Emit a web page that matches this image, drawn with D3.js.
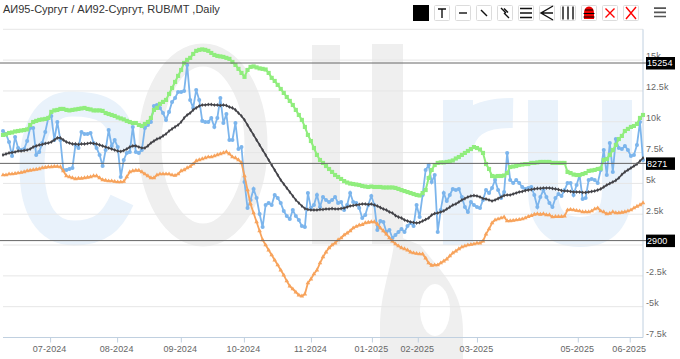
<!DOCTYPE html>
<html>
<head>
<meta charset="utf-8">
<title>АИ95-Сургут / АИ92-Сургут</title>
<script src="https://cdn.jsdelivr.net/npm/d3@7"></script>
<style>
  body { margin: 0; background: #fff; }
  svg { display: block; }
</style>
</head>
<body>
<svg></svg>
<script>
// values in thousands RUB/MT, one per trading day
const blueValues = [
  9.25,9.01,8.36,7.22,8.77,7.87,7.71,7.79,8.44,9.50,9.50,7.31,7.55,8.28,9.17,10.31,10.47,8.52,9.98,8.52,
  6.09,6.09,6.17,6.25,8.12,7.87,9.17,9.01,9.01,9.09,8.28,7.87,7.31,6.41,7.71,9.33,8.04,8.52,7.95,5.52,
  6.90,7.47,7.55,9.58,7.55,7.47,7.71,9.50,9.74,9.98,11.28,11.36,11.12,10.71,10.15,10.80,11.61,11.93,12.42,12.42,
  12.50,14.61,11.77,11.12,12.58,11.77,10.07,9.98,9.98,10.31,9.58,10.31,11.93,9.90,10.63,8.52,8.52,9.90,7.79,7.95,
  5.11,3.00,3.65,4.55,3.81,2.52,1.46,3.25,3.41,3.25,4.06,3.81,3.41,2.76,2.35,2.11,2.84,2.35,2.03,1.54,
  1.46,4.22,3.00,3.25,4.06,3.08,3.90,3.65,3.49,3.65,3.90,3.41,3.49,2.84,3.25,4.22,3.49,3.41,3.00,2.19,
  2.44,3.25,3.98,3.25,1.22,1.95,1.87,1.06,1.22,0.57,0.81,1.06,1.30,1.06,1.54,1.79,1.54,3.25,2.27,4.06,
  6.09,6.49,5.11,5.68,1.06,2.84,4.22,3.57,4.06,4.55,4.46,4.55,3.90,3.08,2.68,3.49,3.25,3.08,3.00,3.65,
  4.46,4.22,4.63,5.28,4.46,3.81,4.30,7.47,5.28,5.03,5.28,5.03,4.71,4.55,4.63,4.71,4.06,3.08,3.90,4.46,
  3.90,3.41,3.08,3.81,4.14,3.98,4.46,5.03,5.03,4.06,4.87,5.68,3.73,3.81,5.28,5.36,5.28,5.03,6.09,7.71,
  5.68,8.28,5.93,8.60,7.87,7.79,8.04,7.71,7.22,7.31,8.12,9.98,6.90
];
const blackValues = [
  7.31,7.39,7.47,7.51,7.55,7.63,7.63,7.67,7.71,7.79,7.95,8.04,8.12,8.16,8.24,8.28,8.36,8.52,8.69,8.69,
  8.52,8.36,8.28,8.20,8.20,8.16,8.20,8.20,8.24,8.28,8.24,8.20,8.12,8.04,7.95,7.87,7.79,7.71,7.63,7.59,
  7.67,7.79,7.95,8.04,8.04,7.95,7.87,7.87,8.04,8.28,8.44,8.60,8.69,8.85,9.01,9.25,9.42,9.58,9.74,9.98,
  10.31,10.55,10.71,10.96,11.12,11.28,11.36,11.36,11.40,11.40,11.36,11.36,11.32,11.36,11.32,11.20,11.12,10.96,10.71,10.47,
  10.15,9.74,9.33,8.93,8.52,8.12,7.71,7.31,6.90,6.49,6.09,5.68,5.28,4.95,4.63,4.30,3.98,3.65,3.41,3.17,
  2.96,2.88,2.84,2.84,2.84,2.88,2.88,2.92,2.92,2.96,2.92,2.92,2.96,3.00,3.08,3.17,3.21,3.25,3.29,3.33,
  3.33,3.29,3.33,3.25,3.17,3.04,2.92,2.84,2.68,2.60,2.39,2.27,2.19,2.03,1.95,1.87,1.83,1.79,1.83,1.95,
  2.07,2.19,2.44,2.56,2.60,2.68,2.76,2.92,3.08,3.25,3.33,3.49,3.65,3.77,3.90,3.98,4.02,3.98,3.90,3.77,
  3.73,3.65,3.57,3.65,3.77,3.90,4.02,4.06,4.06,4.14,4.22,4.30,4.34,4.42,4.46,4.50,4.55,4.59,4.59,4.63,
  4.63,4.63,4.59,4.55,4.50,4.42,4.38,4.38,4.34,4.30,4.30,4.30,4.26,4.26,4.30,4.34,4.38,4.46,4.55,4.71,
  4.87,4.99,5.11,5.24,5.44,5.72,5.93,6.09,6.25,6.41,6.57,6.82,7.06
];
const greenValues = [
  8.93,8.97,9.09,9.13,9.21,9.25,9.29,9.33,9.38,9.74,9.98,10.07,10.15,10.19,10.23,10.31,10.80,10.92,10.96,11.04,
  11.04,10.96,10.92,10.96,11.00,11.04,11.08,11.12,11.04,11.00,10.92,10.92,10.92,10.88,10.71,10.63,10.55,10.47,10.35,10.27,
  10.19,10.07,9.98,9.90,9.90,9.74,9.66,9.82,9.98,10.31,10.96,11.12,11.45,11.61,11.77,12.26,12.74,13.23,13.72,14.20,
  14.77,15.02,15.18,15.50,15.75,15.83,15.87,15.83,15.75,15.58,15.42,15.34,15.30,15.26,15.18,15.10,14.85,14.61,14.29,13.96,
  13.64,14.20,14.45,14.49,14.41,14.33,14.29,14.24,13.96,13.56,13.31,12.99,12.66,12.34,12.01,11.69,11.36,10.96,10.55,10.15,
  9.58,8.93,8.44,7.87,7.31,6.90,6.66,6.41,6.17,5.93,5.68,5.52,5.36,5.19,5.07,4.99,4.95,4.91,4.87,4.79,
  4.75,4.71,4.75,4.71,4.71,4.71,4.67,4.67,4.67,4.67,4.63,4.55,4.46,4.38,4.30,4.22,4.14,4.06,4.02,4.22,
  4.46,5.44,6.09,6.49,6.66,6.70,6.70,6.74,6.78,6.86,7.02,7.14,7.31,7.47,7.63,7.79,7.95,7.87,7.75,7.47,
  6.57,6.17,5.60,5.56,5.60,5.60,5.64,5.84,6.33,6.37,6.41,6.49,6.53,6.57,6.57,6.66,6.66,6.70,6.74,6.74,
  6.74,6.74,6.66,6.66,6.66,6.66,6.66,5.93,5.84,5.72,5.68,5.68,5.76,5.84,6.01,6.05,6.09,6.17,6.21,6.90,
  6.98,7.31,7.71,8.12,8.60,8.85,9.25,9.42,9.58,9.66,9.82,10.31,10.55
];
const orangeValues = [
  5.68,5.68,5.76,5.76,5.80,5.84,5.88,5.93,6.01,6.05,6.09,6.13,6.17,6.25,6.29,6.33,6.33,6.37,6.37,6.33,
  6.01,5.60,5.52,5.44,5.36,5.40,5.40,5.44,5.48,5.52,5.60,5.60,5.44,5.28,5.24,5.19,5.19,5.15,5.11,5.11,
  5.15,5.52,5.93,6.01,6.05,6.05,5.93,5.76,5.60,5.44,5.44,5.68,5.76,5.76,5.76,5.76,5.68,5.64,5.76,6.01,
  6.09,6.25,6.37,6.57,6.82,6.90,6.98,7.06,7.14,7.14,7.22,7.31,7.39,7.47,7.55,7.39,7.14,7.06,6.90,6.66,
  5.60,4.46,3.33,2.60,1.87,1.14,0.41,0,-0.41,-0.81,-1.22,-1.62,-2.03,-2.44,-2.92,-3.33,-3.57,-3.82,-4.06,-4.14,
  -3.98,-3.08,-2.76,-2.35,-2.03,-1.46,-0.97,-0.57,-0.24,0,0.16,0.41,0.57,0.81,0.97,1.14,1.38,1.50,1.62,1.66,
  1.79,1.83,1.87,1.87,1.70,1.38,1.14,0.89,0.57,0.32,0.08,-0.08,-0.24,-0.32,-0.41,-0.57,-0.65,-0.69,-0.73,-0.73,
  -1.06,-1.46,-1.66,-1.62,-1.62,-1.46,-1.30,-1.14,-0.89,-0.65,-0.49,-0.32,-0.16,-0.08,0,0.04,0.08,0.16,0.16,0.32,
  0.89,1.30,1.79,2.03,2.11,2.19,2.27,1.95,1.95,1.99,2.03,2.07,2.11,2.19,2.31,2.39,2.48,2.52,2.48,2.52,
  2.44,2.44,2.27,2.31,2.31,2.31,2.35,2.84,2.88,2.84,2.80,2.76,2.68,2.68,2.68,2.76,2.92,3.00,2.76,2.68,
  2.52,2.56,2.68,2.60,2.60,2.64,2.68,2.76,2.84,3.00,3.13,3.25,3.41
];
// month labels sit at the first trading day of the month, days are not evenly spaced in time
const monthLabels = ['07-2024', '08-2024', '09-2024', '10-2024', '11-2024', '01-2025', '02-2025', '03-2025', '05-2025', '06-2025'];
const monthIndex = [15.6, 37.8, 58.9, 79.8, 102, 122.2, 137.4, 157, 190.4, 207.6];
const gridTicks = [-7.5, -5, -2.5, 0, 2.5, 5, 7.5, 10, 12.5, 15, 17.5];
const labelTicks = [-7.5, -5, -2.5, 2.5, 5, 7.5, 10, 12.5, 15];
const levels = [15254, 8271, 2900];

const svgWidth = 680;
const svgHeight = 359;
const plot = { left: 3, right: 643, top: 29.3, bottom: 337.5 };
const labelFont = '"Liberation Sans", Arial, sans-serif';

const svg = d3.select('svg')
    .attr('width', svgWidth)
    .attr('height', svgHeight);

const xScale = d3.scaleLinear().domain([0, 212]).range([plot.left, plot.right]);
const yScale = d3.scaleLinear().domain([-7.5, 17.5]).range([plot.bottom, plot.top]);
// the drawn levels follow their own axis, not the one that is labelled
const levelScale = d3.scaleLinear().domain([2900, 15254]).range([240.6, 63]);

// watermark
const mark = svg.append('g');
const markBlue = '#e9f2fb';
const markGray = '#efefef';
mark.append('path')
    .attr('d', 'M124 150 C122 110 100 104 72 104 C44 104 32 130 32 168 C32 208 46 233 74 233 C100 233 112 222 122 200')
    .attr('fill', 'none').attr('stroke', markBlue).attr('stroke-width', 25);
mark.append('ellipse')
    .attr('cx', 203).attr('cy', 145).attr('rx', 53).attr('ry', 90)
    .attr('fill', 'none').attr('stroke', markGray).attr('stroke-width', 23);
mark.append('rect').attr('x', 312).attr('y', 45).attr('width', 28).attr('height', 35).attr('fill', markGray);
mark.append('rect').attr('x', 312).attr('y', 98).attr('width', 28).attr('height', 146).attr('fill', markGray);
mark.append('rect').attr('x', 372).attr('y', 44).attr('width', 31).attr('height', 200).attr('fill', markGray);
mark.append('path')
    .attr('d', 'M395 235 L420 245 C440 270 463 290 463 330 L463 359 L380 359 L380 330 C380 290 392 270 395 235 Z')
    .attr('fill', markGray);
mark.append('ellipse').attr('cx', 435).attr('cy', 310).attr('rx', 15).attr('ry', 26).attr('fill', '#fff');
mark.append('path')
    .attr('d', 'M458 100 L458 245 M458 150 Q462 112 513 113')
    .attr('fill', 'none').attr('stroke', markBlue).attr('stroke-width', 30);
mark.append('path')
    .attr('d', 'M543 100 L543 190 Q543 232 580 232 Q617 232 617 190 L617 100')
    .attr('fill', 'none').attr('stroke', markBlue).attr('stroke-width', 30);

// grid
svg.append('g')
    .selectAll('line')
    .data(gridTicks)
    .enter()
    .append('line')
    .attr('x1', plot.left)
    .attr('x2', plot.right)
    .attr('y1', d => yScale(d))
    .attr('y2', d => yScale(d))
    .attr('stroke', '#e6e6e6')
    .attr('stroke-width', 1);

// right axis, labels sit a little above their grid line
const yAxis = svg.append('g')
    .attr('transform', `translate(${plot.right}, 0)`)
    .call(d3.axisRight(yScale).tickValues(labelTicks).tickSize(0).tickPadding(3)
        .tickFormat(d => d + 'k'));
yAxis.select('.domain').attr('stroke', '#c0d0e0').attr('d', `M0,${plot.top}V${plot.bottom}`);
yAxis.selectAll('text')
    .attr('dy', '-0.13em')
    .attr('fill', '#666')
    .attr('font-family', labelFont)
    .attr('font-size', 9)
    .attr('letter-spacing', 0.1);

// bottom axis
const xAxis = svg.append('g')
    .attr('transform', `translate(0, ${plot.bottom})`)
    .call(d3.axisBottom(xScale).tickValues(monthIndex).tickSize(5).tickPadding(3)
        .tickFormat((d, i) => monthLabels[i]));
xAxis.select('.domain').attr('stroke', '#c0d0e0').attr('d', `M${plot.left},0H${plot.right}`);
xAxis.selectAll('line').attr('stroke', '#c0d0e0');
xAxis.selectAll('text')
    .attr('dx', -1)
    .attr('fill', '#666')
    .attr('font-family', labelFont)
    .attr('font-size', 9)
    .attr('letter-spacing', 0.1);

// series, same order as the source chart
const line = d3.line()
    .x((d, i) => xScale(i))
    .y(d => yScale(d));

const seriesList = [
    { values: blueValues, color: '#7cb5ec', width: 1.8, symbol: d3.symbolCircle, size: 13 },
    { values: blackValues, color: '#434348', width: 1.6, symbol: d3.symbolDiamond, size: 5 },
    { values: greenValues, color: '#90ed7d', width: 2, symbol: d3.symbolSquare, size: 17 },
    { values: orangeValues, color: '#f7a35c', width: 1.8, symbol: d3.symbolTriangle, size: 9 }
];

seriesList.forEach(s => {
    const g = svg.append('g');
    g.append('path')
        .attr('d', line(s.values))
        .attr('fill', 'none')
        .attr('stroke', s.color)
        .attr('stroke-width', s.width);
    g.selectAll('path.marker')
        .data(s.values)
        .enter()
        .append('path')
        .attr('class', 'marker')
        .attr('d', d3.symbol().type(s.symbol).size(s.size))
        .attr('fill', s.color)
        .attr('transform', (d, i) => `translate(${xScale(i)}, ${yScale(d)})`);
});

// level lines with their tags
const levelGroup = svg.append('g')
    .selectAll('g')
    .data(levels)
    .enter()
    .append('g')
    .attr('transform', d => `translate(0, ${levelScale(d)})`);
levelGroup.append('line')
    .attr('x1', 0)
    .attr('x2', 646)
    .attr('stroke', '#666')
    .attr('stroke-width', 1);
levelGroup.append('rect')
    .attr('x', 646)
    .attr('y', -6)
    .attr('width', 29)
    .attr('height', 12.5)
    .attr('fill', '#000');
levelGroup.append('text')
    .attr('x', 647)
    .attr('dy', '0.35em')
    .attr('fill', '#fff')
    .attr('font-family', labelFont)
    .attr('font-size', 9)
    .attr('letter-spacing', 0.1)
    .text(d => d);

// title
svg.append('text')
    .attr('x', 3)
    .attr('y', 13)
    .attr('fill', '#333')
    .attr('font-family', labelFont)
    .attr('font-size', 11)
    .text('АИ95-Сургут / АИ92-Сургут, RUB/MT ,Daily');

// toolbar
const toolbar = svg.append('g');
toolbar.append('rect').attr('x', 413).attr('y', 5).attr('width', 16).attr('height', 16).attr('fill', '#000');
const toolIcons = [
    'M438 9H446M442 9V18',
    'M459 13H467',
    'M481 10L487 16',
    'M501 8L506 13M504 13L509 18M504 8.5L508 12.5',
    'M520 8.5H532M520 13H532M520 17.5H532',
    'M553 6L541 13L553 20M541 13L553 13',
    'M563 6.5V19.5M568 6.5V19.5M573 6.5V19.5',
    '',
    'M605.5 8.5L614.5 17.5M614.5 8.5L605.5 17.5',
    'M626 7L636 19M636 7L626 19'
];
toolIcons.forEach((d, i) => {
    const bx = 434 + i * 21;
    toolbar.append('rect')
        .attr('x', bx + 0.5).attr('y', 5.5)
        .attr('width', 15).attr('height', 15)
        .attr('rx', 1)
        .attr('fill', '#fff')
        .attr('stroke', '#dcdcdc');
    if (d) {
        toolbar.append('path')
            .attr('d', d)
            .attr('fill', 'none')
            .attr('stroke', i > 7 ? '#f00' : '#111')
            .attr('stroke-width', 1.4);
    }
});
// red stacked icon
toolbar.append('path').attr('d', 'M584 19V13Q584 7 589 6.5Q594 7 594 13V19Z').attr('fill', '#e00');
toolbar.append('path').attr('d', 'M585 10H593M583.5 13.5H594.5M583.5 17H594.5').attr('stroke', '#000').attr('stroke-width', 1);
// menu
toolbar.append('path')
    .attr('d', 'M654 8.2H666M654 12.4H666M654 16.5H666')
    .attr('stroke', '#555')
    .attr('stroke-width', 1.7);
</script>
</body>
</html>
